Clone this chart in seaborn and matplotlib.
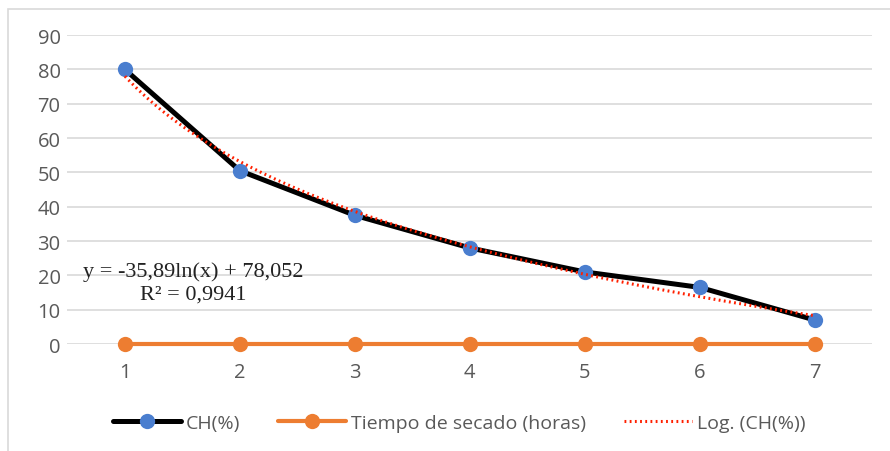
import numpy as np
import pandas as pd
import seaborn as sns
import matplotlib.pyplot as plt
from matplotlib.patches import Rectangle

# values
muestras = [1, 2, 3, 4, 5, 6, 7]
ch = [80, 50.5, 37.5, 28, 21, 16.5, 7]
tiempo = [0, 0, 0, 0, 0, 0, 0]

sns.set_theme(style="white")
plt.rcParams['font.family'] = ['Open Sans', 'DejaVu Sans']

df = pd.DataFrame({'x': muestras, 'CH(%)': ch, 'Tiempo de secado (horas)': tiempo})

# logarithmic trend line fitted to CH(%)
b, a = np.polyfit(np.log(muestras), ch, 1)
xs = np.linspace(1, 7, 200)
trend = pd.DataFrame({'x': xs, 'y': a + b * np.log(xs)})

fig = plt.figure(figsize=(8.9, 4.52), dpi=100)
ax = fig.add_axes([0.0758, 0.2367, 0.9042, 0.6833])

gray = '#595959'
grid = '#d9d9d9'

sns.lineplot(data=df, x='x', y='Tiempo de secado (horas)', ax=ax, color='#ed7d31',
             lw=3, marker='o', markersize=11, markeredgewidth=0,
             label='Tiempo de secado (horas)', zorder=3)
sns.lineplot(data=df, x='x', y='CH(%)', ax=ax, color='black', lw=3.6,
             marker='o', markersize=11, markerfacecolor='#4a7ecf',
             markeredgewidth=0, label='CH(%)', zorder=4)
sns.lineplot(data=trend, x='x', y='y', ax=ax, color='#ff2000', lw=2.2,
             linestyle=(0, (0.6, 1.1)), label='Log. (CH(%))', zorder=5)

ax.set_xlim(0.5, 7.5)
ax.set_ylim(0, 90)
ax.set_yticks(range(0, 91, 10))
ax.set_xticks(muestras)
ax.set_xlabel('')
ax.set_ylabel('')
ax.yaxis.grid(True, color=grid, lw=1.2)
ax.set_axisbelow(True)
for s in ax.spines.values():
    s.set_visible(False)
ax.tick_params(axis='both', colors=gray, labelsize=14.5, length=0)
ax.tick_params(axis='x', pad=13)
ax.tick_params(axis='y', pad=5)
for l in ax.lines:
    l.set_clip_on(False)

ax.text(0.156, 0.200, 'y = -35,89ln(x) + 78,052\nR² = 0,9941',
        transform=ax.transAxes, ha='center', va='center',
        family='Liberation Serif', fontsize=16, color='#222222',
        linespacing=1.3)

h, l = ax.get_legend_handles_labels()
order = [1, 0, 2]
leg = fig.legend([h[i] for i in order], [l[i] for i in order], loc='center',
                 bbox_to_anchor=(0.516, 0.062), ncol=3, frameon=False,
                 handlelength=3.5, handletextpad=0.25, columnspacing=1.95,
                 fontsize=14)
for t in leg.get_texts():
    t.set_color(gray)
if ax.get_legend():
    ax.get_legend().remove()

fig.patches.append(Rectangle((8 / 890, -0.1), 1.2, 1 - 10 / 452 + 0.1,
                             transform=fig.transFigure, fill=False,
                             edgecolor='#d9d9d9', lw=1.2))

fig.savefig('out.png', dpi=100)
